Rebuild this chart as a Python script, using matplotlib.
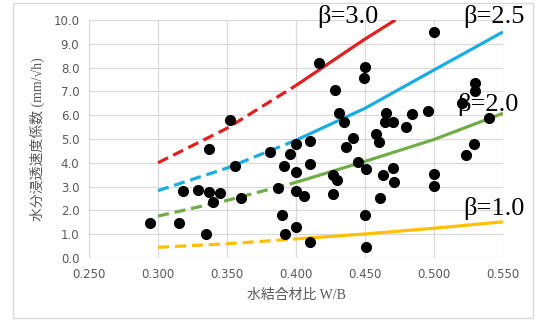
import matplotlib
matplotlib.use('Agg')
import matplotlib.pyplot as plt
from matplotlib.patches import Rectangle

# measured points: water/binder ratio vs. water penetration coefficient
wb = [0.294, 0.315, 0.335, 0.318, 0.329, 0.337, 0.345, 0.340, 0.337, 0.356,
      0.360, 0.352, 0.381, 0.396, 0.400, 0.410, 0.391, 0.400, 0.410, 0.387,
      0.400, 0.406, 0.390, 0.400, 0.392, 0.410, 0.417, 0.428, 0.431, 0.435,
      0.450, 0.449, 0.441, 0.436, 0.427, 0.430, 0.427, 0.445, 0.451, 0.450,
      0.451, 0.463, 0.470, 0.471, 0.461, 0.500, 0.500, 0.523, 0.529, 0.460,
      0.458, 0.500, 0.530, 0.530, 0.520, 0.540, 0.465, 0.4645, 0.470, 0.484,
      0.496, 0.480]
coef = [1.45, 1.48, 1.00, 2.80, 2.87, 2.76, 2.72, 2.34, 4.57, 3.88,
        2.53, 5.80, 4.46, 4.38, 4.79, 4.91, 3.87, 3.60, 3.94, 2.93,
        2.83, 2.62, 1.82, 1.29, 1.00, 0.69, 8.18, 7.04, 6.08, 5.71,
        8.04, 7.58, 5.05, 4.68, 3.49, 3.28, 2.68, 4.03, 3.73, 1.82,
        0.45, 3.50, 3.77, 3.21, 2.51, 3.52, 3.03, 4.31, 4.77, 4.87,
        5.20, 9.51, 7.34, 7.00, 6.50, 5.90, 6.10, 5.70, 5.72, 6.04,
        6.18, 5.49]

# beta curves (dashed up to 0.40, solid after)
curve_x = [0.30, 0.35, 0.40, 0.45, 0.50, 0.55]
red_x = [0.30, 0.35, 0.40, 0.45, 0.472]
beta30 = [4.00, 5.45, 7.25, 9.20, 10.0]
beta25 = [2.83, 3.78, 4.95, 6.29, 7.90, 9.50]
beta20 = [1.76, 2.42, 3.18, 4.06, 4.98, 6.08]
beta10 = [0.45, 0.60, 0.80, 1.01, 1.25, 1.52]

fig = plt.figure(figsize=(5.45, 3.24), dpi=100)
fig.patches.append(Rectangle((13 / 545, 1 - 318 / 324), 520 / 545, 315 / 324,
                             transform=fig.transFigure, fill=False,
                             edgecolor='#D9D9D9', linewidth=1.0))
ax = fig.add_axes([89 / 545, 1 - 258 / 324, 414 / 545, 238 / 324])

series = [(red_x, beta30, '#E0201E'), (curve_x, beta25, '#1AADE4'),
          (curve_x, beta20, '#70AD47'), (curve_x, beta10, '#FFC000')]
for xs, ys, col in series:
    ax.plot(xs[:3], ys[:3], color=col, lw=2.3, dashes=(3.5, 1.8), zorder=2)
    ax.plot(xs[2:], ys[2:], color=col, lw=2.3, solid_capstyle='butt', zorder=2)

ax.plot(wb, coef, 'o', color='black', markersize=7, zorder=3, clip_on=False)

ax.set_xlim(0.25, 0.55)
ax.set_ylim(0, 10)
ax.set_xticks([0.25, 0.30, 0.35, 0.40, 0.45, 0.50, 0.55])
ax.set_yticks(range(11))
ax.set_xticklabels(['%.3f' % v for v in ax.get_xticks()])
ax.set_yticklabels(['%.1f' % v for v in ax.get_yticks()])
ax.tick_params(length=0, labelsize=8.5, labelcolor='#595959', pad=7)
ax.grid(color='#D9D9D9', lw=0.9)
ax.set_axisbelow(True)
for s in ax.spines.values():
    s.set_visible(False)

lab = ['Liberation Serif', 'Noto Sans CJK JP']
ax.set_xlabel('水結合材比 W/B', family=lab, fontsize=10, color='#595959', labelpad=6)
ax.set_ylabel('水分浸透速度係数 (mm/√h)', family=lab, fontsize=10, color='#595959', labelpad=6)

bfont = dict(family='Liberation Serif', fontsize=19, color='black', va='center', ha='left')
fig.text(317 / 545, 1 - 17 / 324, 'β=3.0', **bfont)
fig.text(463 / 545, 1 - 17 / 324, 'β=2.5', **bfont)
fig.text(457 / 545, 1 - 105 / 324, 'β=2.0', **bfont)
fig.text(463 / 545, 1 - 208 / 324, 'β=1.0', **bfont)

plt.savefig('out.png', dpi=100)
